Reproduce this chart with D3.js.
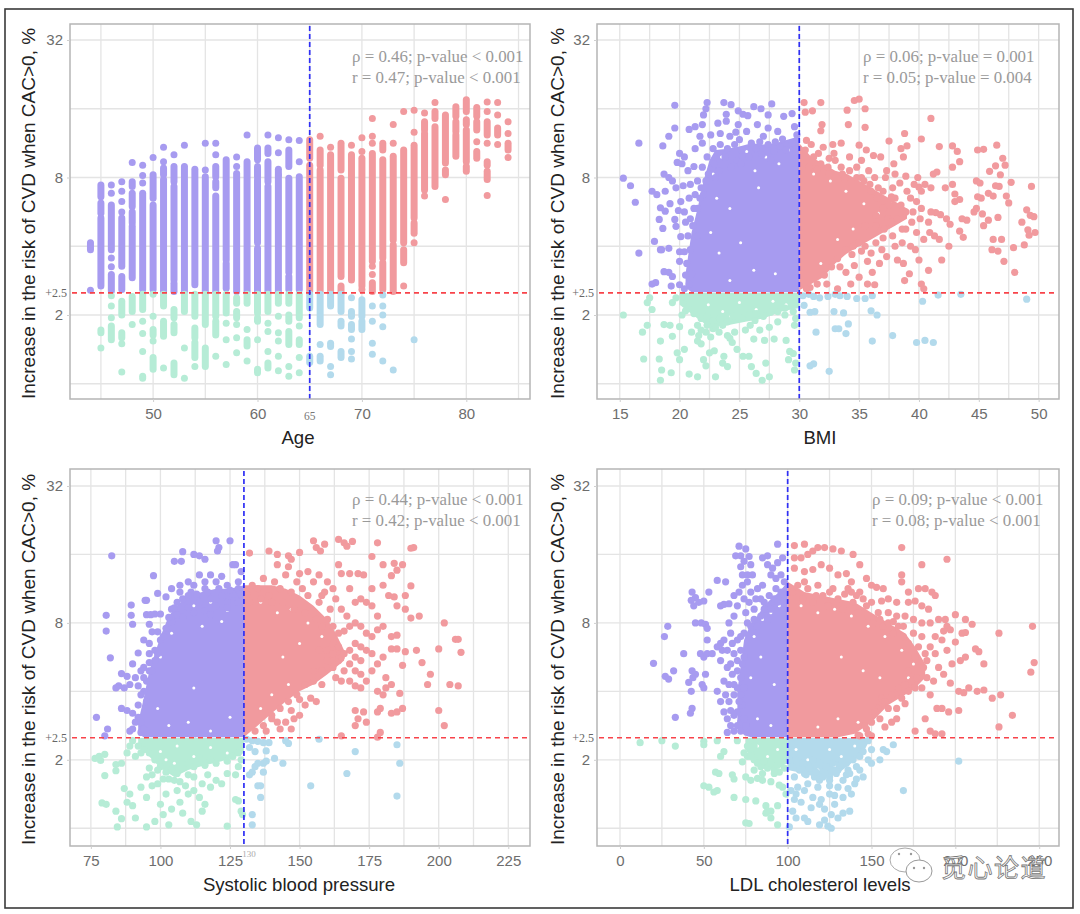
<!DOCTYPE html>
<html>
<head>
<meta charset="utf-8">
<script src="https://cdn.jsdelivr.net/npm/d3@7"></script>
<style>
  body { margin: 0; background: #fff; }
  svg { display: block; }
</style>
</head>
<body>
<div id="canvas"></div>
<script>
// y values are all log2(risk %), the axis is a log2 axis
const yGrid = [0, 1, 2, 3, 4, 5];
const yLabelled = [1, 3, 5];
const riskCut = Math.log2(2.5);

const corrAge = ["ρ = 0.46; p-value < 0.001", "r = 0.47; p-value < 0.001"];
const corrBmi = ["ρ = 0.06; p-value = 0.001", "r = 0.05; p-value = 0.004"];
const corrSbp = ["ρ = 0.44; p-value < 0.001", "r = 0.42; p-value < 0.001"];
const corrLdl = ["ρ = 0.09; p-value < 0.001", "r = 0.08; p-value < 0.001"];

const ageTicks = [50, 60, 70, 80];
const bmiTicks = [15, 20, 25, 30, 35, 40, 45, 50];
const sbpTicks = [75, 100, 125, 150, 175, 200, 225];
const ldlTicks = [0, 50, 100, 150, 200, 250];

// age panel: [age, runs of stacked dots as [hi, lo] or a single [v]]
const ageColumns = [
  [44, [2.05,1.95], [1.36]],
  [45, [2.89,2.72], [2.63,2.48], [2.41,1.42], [0.78,0.74], [0.52]],
  [46, [2.89], [2.77], [2.6,1.95], [1.83], [1.7], [1.59,1.35], [1.28], [1.13], [0.96], [0.84,0.64]],
  [47, [2.94], [2.8], [2.65], [2.5], [2.41,1.71], [1.56,1.37], [1.2,1.0], [0.74,0.67], [0.58], [0.17]],
  [48, [3.22], [2.94,2.87], [2.77,2.58], [2.5,2.34], [2.29,1.54], [1.27,1.05], [0.86]],
  [49, [3.18], [3.03], [2.92], [2.77,1.37], [1.3,1.08], [0.91], [0.73], [0.47], [0.11,0.08]],
  [50, [3.29], [3.04,2.7], [2.6,1.37], [1.3], [0.98], [0.79,0.71], [0.62], [0.38,0.21]],
  [51, [3.44], [3.23], [3.14,3.04], [2.97,1.34], [1.3,1.13], [0.91,0.69], [0.23]],
  [52, [3.33], [3.16,2.94], [2.87,1.51], [1.46,1.34], [1.08,0.96], [0.86,0.74], [0.3,0.13]],
  [53, [3.47], [3.16,3.01], [2.97,1.34], [1.3,1.05], [0.52], [0.08]],
  [54, [3.12,1.44], [1.3,0.98], [0.81,0.67], [0.6,0.38], [0.25]],
  [55, [3.5], [3.11], [3.01,1.34], [1.3,0.86], [0.52,0.25]],
  [56, [3.5], [3.33], [3.16,3.01], [2.94,2.85], [2.73,1.34], [1.3,0.98], [0.91,0.71], [0.4]],
  [57, [3.26,1.8], [1.75,1.39], [1.3,1.03], [0.88], [0.64], [0.28]],
  [58, [3.3], [3.16], [3.06,1.34], [1.25,1.17], [1.05,0.96], [0.86], [0.67], [0.45]],
  [59, [3.62], [3.23,1.34], [1.3,1.17], [0.79], [0.64,0.55], [0.33]],
  [60, [3.43,3.26], [3.16,3.01], [2.97,2.05], [1.97,1.34], [1.3,1.03], [0.96,0.91], [0.64], [0.21,0.16]],
  [61, [3.62], [3.43,3.35], [3.23,2.94], [2.87,1.34], [1.3,1.05], [0.88], [0.76], [0.47], [0.3,0.23]],
  [62, [3.58], [3.36], [3.12,3.04], [3.03,1.34], [1.3,1.17], [0.98], [0.74], [0.62], [0.4], [0.19]],
  [63, [3.55], [3.4,3.16], [2.99,1.62], [1.56,1.37], [1.3,1.17], [1.0,0.91], [0.76,0.57], [0.25], [0.11]],
  [64, [3.54], [3.23], [3.01,1.37], [1.3,0.96], [0.84], [0.64,0.57], [0.38], [0.16]],
  [65, [3.55,3.28], [3.18,1.34], [1.3,1.1], [0.4,0.31]],
  [66, [3.6], [3.4,3.18], [3.11,1.34], [1.3,0.86], [0.57], [0.4,0.33]],
  [67, [3.44], [3.33,1.34], [1.3,1.13], [0.59,0.54], [0.25], [0.13]],
  [68, [3.5,3.11], [2.99,1.56], [1.42,1.34], [1.3,1.05], [0.91,0.84], [0.47,0.38]],
  [69, [3.47], [3.33,1.51], [1.25], [1.05,0.98], [0.86,0.79], [0.65], [0.47], [0.36]],
  [70, [3.58], [3.38], [3.28,1.42], [1.37], [1.22,0.98], [0.91,0.79]],
  [71, [3.86], [3.6], [3.5], [3.35,1.78], [1.71], [1.59], [1.47,1.34], [1.13], [0.91], [0.59], [0.43]],
  [72, [3.5,3.4], [3.26,1.83], [1.76,1.37], [1.29], [1.13], [1.0], [0.83], [0.33]],
  [73, [3.77], [3.5], [3.31,2.09], [2.02,1.34], [0.2]],
  [74, [3.96], [3.4,2.05], [1.95,1.76], [1.42]],
  [75, [3.98], [3.66], [3.47,2.41], [2.34,2.19], [2.05], [0.64]],
  [76, [3.94], [3.81,3.69], [3.64,2.82], [2.73]],
  [77, [4.09], [3.96,3.86], [3.74,2.87]],
  [78, [3.91,3.21], [3.11,3.04], [2.68]],
  [79, [4.03,3.89], [3.81,3.67], [3.62,3.31]],
  [80, [4.13,3.96], [3.84,3.77], [3.69,3.23], [3.16,3.09]],
  [81, [4.02,3.89], [3.81,3.69], [3.52], [3.38,3.28]],
  [82, [4.1], [3.96], [3.81,3.62], [3.5], [3.23,3.18], [3.09,2.97], [2.74]],
  [83, [4.09], [3.91], [3.72,3.62], [3.48]],
  [84, [3.81], [3.64], [3.5,3.4], [3.29]]
];

// solid middle of the clouds: [x, lo, hi]
const bmiCores = [
  [[20.5,1.4,1.6],[21,1.33,2.2],[21.5,1.33,2.55],[22,1.33,2.95],[22.5,1.33,3.25],[23,1.33,3.4],[24,1.33,3.42],[25,1.33,3.45],[26,1.33,3.5],[27,1.33,3.48],[28,1.33,3.5],[29,1.33,3.55],[30,1.33,3.6]],
  [[30,1.36,3.5],[31,1.45,3.3],[32,1.55,3.2],[33,1.75,3.1],[34,1.9,3.05],[35,2.0,2.95],[36,2.1,2.85],[37,2.2,2.75],[38,2.3,2.65],[39,2.4,2.55]],
  [[20,1.15,1.32],[21.5,0.95,1.32],[22.5,0.82,1.32],[24,0.85,1.32],[25.5,0.9,1.32],[27,0.95,1.32],[28.5,1.05,1.32],[30,1.1,1.32]]
];
const sbpCores = [
  [[92,1.38,1.55],[94,1.33,1.9],[96,1.33,2.3],[98,1.33,2.55],[100,1.33,2.8],[103,1.33,3.1],[106,1.33,3.25],[110,1.33,3.4],[115,1.33,3.45],[120,1.33,3.5],[125,1.33,3.5],[130,1.33,3.55]],
  [[130,1.33,3.55],[135,1.5,3.55],[140,1.68,3.55],[145,1.85,3.5],[150,2.0,3.4],[155,2.1,3.25],[160,2.25,3.05],[163,2.35,2.85],[166,2.45,2.6]],
  [[92,1.22,1.32],[96,1.05,1.32],[100,0.88,1.32],[105,0.75,1.32],[110,0.85,1.32],[116,0.92,1.32],[122,0.98,1.32],[127,1.05,1.32],[130,1.1,1.32]]
];
const ldlCores = [
  [[70,1.5,2.0],[74,1.36,2.75],[78,1.33,3.0],[82,1.33,3.1],[86,1.33,3.25],[90,1.33,3.35],[95,1.33,3.45],[100,1.33,3.6]],
  [[100,1.33,3.6],[110,1.33,3.45],[120,1.33,3.4],[130,1.33,3.35],[140,1.38,3.3],[150,1.55,3.15],[160,1.8,3.0],[170,1.95,2.85],[176,2.05,2.65],[182,2.2,2.4]],
  [[75,1.15,1.32],[80,0.95,1.32],[85,0.88,1.32],[92,0.88,1.32],[100,0.95,1.32]],
  [[100,0.85,1.32],[110,0.8,1.32],[120,0.72,1.32],[130,0.8,1.32],[138,0.95,1.32],[145,1.1,1.32],[148,1.25,1.32]]
];

// small openings seen inside the solid parts of the clouds
const bmiGaps = [
  [23.5,3.3],[24.4,3.15],[25.6,3.38],[26.3,3.1],[27.2,3.3],[28.3,3.2],[29.1,3.4],[22.8,3.05],[23.1,2.7],[24.2,2.55],[22.6,2.2],[23.3,1.9],[25.1,2.05],[26.2,1.65],[24.2,1.5],[28,1.6],[26.6,2.85],[31.2,3.05],[32.6,2.95],[33.9,2.8],[35.4,2.62],[36.6,2.48],[37.6,2.62],[34.5,2.25],[33.2,2.1],[31.8,1.75],[22.4,1.15],[23.6,1.05],[25,1.18],[26.4,1.08],[27.8,1.2],[28.9,1.15],[24.3,0.98]
];
const sbpGaps = [
  [112,3.25],[118,3.3],[124,3.18],[108,3.05],[104,2.85],[100,2.5],[115,2.95],[122,3.02],[99,1.75],[103,1.5],[110,1.55],[118,1.42],[125,1.62],[112,2.05],[136,3.3],[142,3.15],[147,3.2],[153,3.0],[158,2.8],[150,2.7],[144,2.5],[136,1.75],[140,1.95],[146,2.1],[100,1.12],[106,1.2],[112,1.05],[118,1.18],[124,1.1],[105,0.95],[102,1.0]
];
const ldlGaps = [
  [85,3.05],[90,3.15],[95,3.25],[80,2.8],[84,2.5],[78,2.2],[82,1.6],[90,1.5],[92,2.1],[108,3.25],[118,3.15],[128,3.2],[138,3.1],[148,2.95],[158,2.8],[168,2.6],[175,2.4],[145,2.3],[132,2.5],[155,2.2],[118,1.48],[130,1.6],[142,1.55],[172,2.2],[82,1.2],[88,1.05],[94,1.15],[105,1.15],[112,1.0],[118,0.85],[125,1.15],[132,1.05],[140,1.2],[128,0.92]
];

const bmiPoints = [
  [15.3,2.99],[15.9,2.88],[16.3,2.64],[16.6,3.5],[16.6,1.9],[19.6,4.05],[22.3,4.09],[22.2,4.0],[22.0,3.91],[23.7,4.09],[24.3,4.06],[24.9,3.97],[25.3,3.92],[26.2,4.03],[26.8,4.0],[27.7,4.07],[27.4,3.91],[25.7,3.9],[23.9,3.92],[19.6,3.72],[19.1,3.6],[18.6,3.46],[20.8,3.7],[21.3,3.74],[21.9,3.77],[21.7,3.6],[23.2,3.79],[23.9,3.82],[24.9,3.77],[25.6,3.67],[26.5,3.77],[27.4,3.72],[28.2,3.67],[28.7,3.89],[29.4,3.93],[29.6,3.74],[29.8,3.62],
  [24.2,3.6],[24.7,3.66],[22.6,3.62],[23.4,3.64],[27.0,3.6],[28.6,3.56],[25.0,3.55],[21.3,3.42],[21.9,3.5],[20.0,3.35],[20.4,3.3],[19.8,3.22],[20.2,3.2],[20.7,3.1],[21.2,3.16],[21.5,2.95],[19.1,3.0],[18.7,3.05],[19.4,2.95],[19.7,2.85],[20.3,2.88],[20.9,2.9],[17.7,2.8],[18.1,2.75],[18.8,2.8],[19.2,2.62],[18.4,2.56],[18.8,2.51],[19.6,2.39],[18.3,2.39],[18.6,2.26],[19.7,2.29],[17.9,2.07],[18.4,1.95],[19.1,1.97],[20.1,2.14],[20,1.92],[20,1.78],[18.7,1.63],[19.4,1.56],[18,1.47],[19.3,1.42],[20,1.44],[20.4,2.5],[20.8,2.7],[21.3,2.75],[20.1,2.65],[20.9,2.4],[19.9,2.52],[21.8,2.85],[18.5,1.95],[19.1,1.62],[17.7,1.45],[20.5,1.58],
  [30.4,4.09],[31.8,4.09],[34.6,4.12],[35,4.14],[35.5,4.0],[30.5,3.95],[31.1,3.97],[34,3.98],[34.1,3.77],[35.5,3.73],[31.9,3.77],[31.8,3.68],[41,3.86],[38.8,3.64],[40.2,3.56],[37.5,3.53],[35,3.47],[35.6,3.4],[33.5,3.5],[32.8,3.48],[32,3.44],[31,3.48],[30.6,3.54],[36.2,3.32],[36.8,3.3],[38.5,3.42],[39,3.46],[38.7,3.3],[37.9,3.2],[38,3.05],[38.9,3.02],[37.3,3.1],[39.9,3.0],[41.7,3.45],[42.8,3.46],[43.2,3.38],[43.4,3.23],[42.8,3.15],[44.9,3.4],[45.4,3.41],[46.5,3.47],[47,3.28],[46.4,3.17],[47.2,3.18],[46.8,3.04],[45.9,3.09],[47.7,2.93],[46.7,2.87],[46.4,2.88],[49.4,2.87],[44.8,2.95],[45.1,2.92],[45.8,2.77],[46.2,2.73],[47.3,2.73],[47.5,2.63],[44.9,2.72],[45.2,2.7],[43,2.76],[43,2.65],[43.4,2.68],[41.2,3.05],[41.5,3.08],[40.5,2.9],[40,2.86],[41,2.85],[42.2,2.85],[42.8,2.9],[49,2.53],[49.3,2.45],[49.6,2.43],[48.6,2.35],[49.1,2.24],[49.7,2.2],[49.2,2.16],[47.9,1.98],[48.8,2.02],[46.6,2.42],[44.6,2.5],[44.8,2.55],[45.3,2.47],[45.8,2.38],[45.4,2.3],[44,2.38],[43.6,2.4],[43.4,2.22],[43.7,2.13],[42.6,2.32],[42.3,2.4],[41.8,2.46],[41.4,2.49],[46.1,1.95],[46.6,1.93],[46.9,2.1],[46.2,2.1],[47.1,1.78],[48,1.62],[42.5,2.0],[41.9,1.8],[40.8,1.65],[40.2,1.45],[40.4,1.38],
  [38,2.7],[38.5,2.6],[39,2.8],[39.5,2.5],[39.6,2.9],[38.2,2.4],[37.5,2.6],[37.8,2.85],[38.9,2.25],[39.8,2.2],[40.1,2.4],[40.4,2.1],[40.9,2.2],[41.3,2.15],[41.7,2.1],[39.3,2.0],[38.6,2.05],[37.8,2.15],[37.1,2.25],[36.4,2.05],[36.9,1.95],[37.3,1.85],[38.2,1.8],[38.7,1.75],[39.7,1.95],[40,1.8],[39.2,1.6],[38.8,1.5],[36.7,1.75],[36.1,1.62],[35.7,1.78],[35.2,1.93],[34.4,1.88],[35,1.55],[35.7,1.45],[36.3,1.44],[33.4,1.7],[34.3,1.45],[33.2,1.38],[32.3,1.45],[35.9,2.9],[36.6,2.85],[37.2,3.0],[35.8,3.1],[34.8,3.15],[33.5,3.15],[32.5,3.28],[31.6,3.35],[32.9,3.35],[34.2,3.3],[35.2,3.25],
  [15.3,1.0],[17.5,1.25],[17.3,1.18],[17.7,1.08],[17.3,0.85],[16.9,0.75],[17,0.36],[18.3,0.36],[18.4,0.62],[18.4,0.05],[18.5,0.2],[18.7,0.86],[19.2,0.85],[19.4,0.69],[20,0.83],[19.3,0.16],[19.8,0.45],[20,0.35],[20.4,0.5],[20.8,0.14],[21.5,0.1],[21.5,0.62],[21.8,0.58],[22,0.35],[22.2,0.26],[22.5,0.45],[22.9,0.48],[23,0.1],[23.6,0.3],[23.7,0.4],[24,0.25],[24.4,0.6],[24.2,0.66],[24,0.7],[23.3,0.75],[22.8,0.8],[22.3,0.85],[21.6,0.7],[26,0.25],[26.4,0.15],[26.9,0.05],[27.5,0.1],[27.2,0.3],[25.3,0.4],[25.8,0.4],[27.9,0.65],[27.1,0.63],[28.9,0.63],[29.1,0.35],[29.7,0.3],[29.5,0.44],[29.2,0.47],[29.6,0.2],[24.8,0.5],[25.5,0.78],[26.2,0.65],[26.7,0.78],[27.5,0.82],[28.2,0.9],[28.8,1.0],[29.6,0.85],[25.9,0.85],[24.6,0.75],
  [30.3,1.28],[30.8,1.3],[31.2,1.27],[31.7,1.25],[32.4,1.27],[33,1.3],[33.4,1.28],[34,1.27],[34.8,1.24],[35.5,1.24],[36.1,1.28],[40.3,1.2],[41.6,1.29],[43.5,1.3],[49,1.23],[30.4,1.14],[30.9,1.04],[31.3,1.05],[32.9,1.05],[33.7,1.03],[36,1.06],[36.5,1.0],[34.1,0.87],[33,0.8],[33.3,0.8],[33.9,0.73],[31.4,0.75],[37.8,0.7],[36.1,0.62],[39.8,0.6],[40.5,0.63],[41.2,0.6],[30.9,0.26],[31.2,0.29],[32.5,0.18]
];
// denser, mottled rim of the BMI clouds
const bmiRim = [
  [22.4,3.05],[22.9,3.2],[23.3,3.1],[23.8,3.3],[24.3,3.15],[24.8,3.25],[25.2,3.4],[25.8,3.3],[26.4,3.42],[26.9,3.33],[27.4,3.48],[27.9,3.38],[28.4,3.45],[28.9,3.4],[29.4,3.5],[29.7,3.42],[22.3,3.3],[22.8,3.42],[23.4,3.48],[24,3.42],[24.6,3.48],[26,3.5],[26.7,3.52],[28,3.52],[22.2,2.95],[21.9,3.15],[22,2.75],[21.5,2.55],[21.1,2.3],[20.7,2.15],[20.9,1.95],[20.6,1.75],[20.4,1.92],[20.8,1.45],[20.4,1.38],[21,1.6],[21.5,2.15],[20.5,2.35],[21.2,2.55],[21.7,2.7],[23,3.0],[25.1,3.2],[27.6,3.25],
  [30.5,3.4],[31.2,3.3],[31.8,3.2],[32.4,3.15],[33,3.25],[33.6,3.05],[34.2,3.1],[34.8,3.0],[35.4,2.95],[36,2.8],[36.5,2.7],[37,2.55],[36.4,2.45],[37.4,2.4],[37.7,2.72],[38.4,2.92],[38.9,2.5],[39.3,2.7],[39.8,2.65],[40.2,2.8],[40.2,2.55],[39.4,2.35],[38.6,2.25],[37.7,2.35],[37,2.12],[36.4,2.3],[35.5,2.3],[35,2.05],[34.5,2.0],[33.9,1.95],[33.2,1.82],[32.7,1.7],[32.1,1.58],[31.5,1.45],[30.9,1.4],[30.6,1.38],[33.9,1.62],[34.6,1.72],[35.5,2.0],[36,1.9],[38,2.0],[41,2.5],[40.8,2.35],[35.2,3.0],[33.8,2.98],[32.5,3.05],[31.5,3.12],[30.8,3.15],[36.3,3.0],[37,2.8],
  [20.3,1.26],[20.9,1.18],[20.5,1.06],[21.2,1.02],[21.8,0.95],[22.3,0.98],[22.8,0.92],[23.4,0.95],[24,0.9],[24.5,0.98],[25.2,0.95],[25.8,1.0],[26.4,1.02],[27,0.98],[27.6,1.04],[28.2,1.05],[21.5,0.85],[22.2,0.75],[22.6,0.68],[23,0.82],[23.6,0.85],[19.7,1.25],[19.4,1.18],[20.2,1.0],[21,0.75],[21.8,0.78],[26.3,0.92],[28.8,1.1],[29.5,1.05],[29.7,0.95]
];

const sbpPoints = [
  [82.5,3.98],[97.5,3.69],[99,3.43],[95,3.33],[94.5,3.33],[89.5,3.26],[80.5,3.11],[89.5,3.11],[95,3.12],[96.5,3.12],[98,3.13],[100,3.13],[90,2.98],[96,2.98],[80.5,2.88],[97,2.87],[99,2.87],[94,2.75],[96,2.7],[92,2.56],[96,2.55],[98,2.45],[82,2.49],[90,2.4],[94,2.35],[96,2.3],[86,2.26],[88,2.22],[91,2.2],[85,2.08],[84,2.05],[87,2.05],[89,2.1],[92,2.08],[94,2.0],[86,1.75],[88,1.72],[90,1.68],[92,1.62],[77,1.62],[81,1.45],[80,1.35],[93,1.4],[89,1.42],[95,2.15],[93,2.3],
  [108,4.04],[112,4.0],[114,3.98],[116,3.93],[105,3.9],[107.5,3.9],[121,4.1],[125,4.2],[126,3.85],[122,3.68],[118,3.7],[114,3.7],[110,3.6],[107,3.55],[104,3.5],[102,3.38],[107,3.45],[112,3.55],[116,3.6],[120,3.6],[124,3.55],[128,3.6],[129,3.75],[128,3.5],
  [120,4.2],[120.5,4.05],[127,3.85],[116,3.5],[111,3.45],[106,3.3],[104,3.2],[105,3.1],
  [132,4.02],[139,4.05],[142,4.0],[146,3.98],[147,3.93],[150,4.03],[155,4.2],[156,4.1],[157.5,4.05],[159,4.15],[164,4.22],[166,4.17],[167,4.12],[169,4.19],[178,4.17],[176,3.97],[180,3.85],[183,3.69],[191,4.1],[190,4.09],[184,3.87],[187,3.85],[185,3.77],[190,3.54],[180,3.55],[176,3.5],[182,3.4],[184,3.38],[185,3.25],[188,3.2],[190,3.07],[193,3.1],[188,3.4],
  [142,3.85],[146,3.82],[150,3.72],[153,3.75],[157,3.7],[160,3.6],[164,3.85],[165,3.72],[168,3.72],[171,3.72],[173,3.7],[168,3.5],[172,3.35],[170,3.3],[174,3.3],[176,3.25],[178,3.1],[162,3.5],[158,3.4],[165,3.2],[167,3.1],[170,3.0],[172,2.95],[174,2.85],[176,2.8],[178,2.9],[180,2.95],[183,2.8],[185,2.82],[170,2.7],[172,2.65],[174,2.6],[176,2.55],[178,2.4],[180,2.5],[181,2.2],[183,2.62],[185,2.62],[188,2.58],[192,2.6],[187,2.38],[194,2.42],[197,2.25],[196,2.1],[202,3.0],[206,2.76],[207,2.76],[208,2.57],[200,2.62],[204,2.1],[207,2.08],[200,1.72],[202,1.5],
  [160,2.6],[162,2.35],[164,2.45],[166,2.3],[168,2.4],[170,2.3],[172,2.25],[174,2.15],[176,2.3],[165,2.15],[168,2.15],[170,2.08],[172,2.05],[163,2.2],[158,2.1],[155,2.15],[154,1.9],[156,1.85],[150,1.65],[152,1.8],[148,1.6],[145,1.55],[178,2.0],[180,1.95],[181,2.05],[179,1.75],[183,1.68],[186,1.97],[185,1.7],[187,1.75],[171,1.6],[170,1.72],[173,1.7],[170,1.5],[174,1.55],[178,1.7],[179,1.4],[178,1.33],[183,2.1],[165,1.35],[140,1.65],[142,1.55],[143,1.45],[147,1.45],
  [76.5,1.02],[78,1.05],[80,1.08],[78.5,0.99],[80,0.77],[84,0.93],[84,0.84],[87,0.58],[89,0.5],[79,0.37],[80.5,0.35],[84,0.25],[86,0.14],[84.5,0.02],[88,0.38],[90,0.33],[91,0.15],[93,0.6],[95,0.45],[95,0.75],[97,0.62],[95,0.02],[98,0.1],[100,0.35],[101,0.2],[103,0.05],[104,0.28],[106,0.55],[107,0.38],[108,0.22],[110,0.5],[111,0.1],[113,0.05],[114,0.45],[116,0.35],[115,0.25],[118,0.6],[120,0.7],[122,0.65],[124,0.03],[127,0.42],[128,0.4],[129,0.25],[129.5,0.2],[112,0.55],[102,0.5],[99,0.65],[105,0.7],[110,0.78],[117,0.78],[124,0.8],[127,0.78],[128,0.9],[89,1.2],[88,1.1],[91,1.05],[93,1.1],[86,0.95],
  [131,1.3],[133,1.28],[135,1.27],[137,1.25],[139,1.25],[145,1.28],[146,1.24],[157,1.3],[132,1.18],[134,1.12],[138,1.13],[141,1.02],[138,0.98],[137,0.95],[135,0.95],[133,0.82],[132,0.78],[134,0.9],[137,0.82],[144,0.95],[167,0.8],[170,1.12],[185,1.22],[186,0.95],[154,0.62],[136,0.62],[135,0.62],[136,0.45],[185,0.47],[133,0.2],[133,0.05]
];
const sbpRim = [
  [104,3.02],[106,3.12],[108,3.08],[110,3.22],[112,3.15],[114,3.3],[116,3.18],[118,3.35],[120,3.25],[122,3.4],[124,3.3],[126,3.42],[128,3.3],[129,3.42],[113,3.42],[117,3.45],[121,3.5],[125,3.48],[108,3.35],[110,3.4],[102,2.92],[100,2.75],[98,2.6],[96,2.42],[94,2.2],[93,1.95],[92,1.8],[91,1.55],[93,1.55],[95,1.85],[97,2.3],[99,2.55],[101,2.8],[103,3.08],[105,3.22],[118,3.12],[124,3.22],[90,1.45],[94,1.45],
  [131,3.42],[133,3.55],[135,3.5],[137,3.65],[139,3.4],[141,3.6],[143,3.5],[145,3.7],[147,3.45],[149,3.6],[151,3.5],[153,3.4],[155,3.6],[157,3.3],[159,3.45],[161,3.2],[163,3.35],[160,3.05],[162,2.95],[164,2.85],[162,2.7],[164,2.65],[166,2.88],[168,2.95],[165,2.5],[160,2.45],[162,2.55],[158,2.3],[155,2.3],[152,2.1],[149,1.95],[146,1.85],[143,1.75],[140,1.6],[137,1.5],[134,1.42],[138,1.42],[147,1.72],[150,1.88],[144,3.3],[148,3.2],[152,3.15],[156,3.05],[136,3.35],[140,3.3],[132,3.3],[166,2.55],[168,2.6],[170,2.5],[172,2.45],[158,2.95],[157,2.6],
  [90,1.28],[92,1.2],[94,1.15],[96,1.1],[98,1.0],[100,0.9],[102,0.82],[104,0.85],[106,0.8],[108,0.88],[110,0.95],[112,0.9],[114,1.02],[116,0.92],[118,1.0],[120,0.95],[122,1.05],[124,0.98],[126,1.05],[128,1.1],[129,1.0],[103,0.72],[101,0.72],[107,0.68],[115,0.65],[109,0.62],[99,0.85],[96,0.88],[97,0.78],[112,0.75]
];

const ldlPoints = [
  [20,2.41],[27,2.22],[29,2.18],[32,2.3],[33,1.62],[41,2.13],[43,2.3],[43.5,2.2],[45,2.25],[42.5,2.0],[42,1.68],[43,1.75],[38,2.55],[28.5,2.95],[26.5,2.8],[45,3.0],[48.5,3.0],[51,2.98],[52,2.92],[52,2.75],[48,2.55],[50,2.5],[52,2.55],[55,2.55],[51,2.25],[49,2.1],[50,2.05],
  [43,3.45],[45,3.37],[42.5,3.33],[44,3.25],[47,3.3],[50,3.32],[53,3.45],[58,3.62],[63,3.6],[60,3.25],[62,3.27],[65,3.28],[68,3.4],[71,3.45],[73,3.55],[76,3.6],[70,3.25],[68,3.1],[65,3.0],[66,2.85],[60,2.7],[62,2.75],[58,2.65],[61,2.6],[64,2.6],[67,2.7],[70,2.75],[72,2.8],[60,2.45],[64,2.35],[67,2.25],[70,2.3],[73,2.4],[62,2.15],[58,2.0],[60,1.85],[62,1.7],[64,1.6],[66,1.5],[68,1.42],[70,1.7],[72,1.55],[74,1.6],[65,1.85],[68,1.95],[72,1.95],
  [71,4.12],[75,4.08],[69,3.98],[72,3.98],[74,3.9],[77,3.97],[72,3.82],[78,3.85],[73,3.7],[76,3.7],[79,3.7],[85,3.95],[88,3.98],[94,4.15],[88,3.85],[91,3.8],[94,3.88],[97,3.95],[90,3.7],[93,3.65],[96,3.7],[98,3.6],[85,3.55],[82,3.5],[78,3.45],[74,3.35],[77,3.3],[81,3.35],[86,3.3],
  [104,4.13],[110,4.15],[104,3.95],[108,3.95],[112,4.0],[115,4.05],[118,4.1],[122,4.1],[127,4.08],[132,4.05],[139,4.0],[143,3.85],[104,3.8],[110,3.75],[115,3.78],[120,3.85],[125,3.8],[130,3.7],[135,3.72],[138,3.6],[147,3.65],[150,3.55],[153,3.52],[157,3.5],[168,4.1],[168,3.7],[168,3.6],[180,3.85],[195,3.93],[172,3.45],[178,3.5],[186,3.45],[182,3.5],[188,3.4],[176,3.32],[180,3.25],[184,3.2],[172,3.3],[165,3.3],[160,3.35],[156,3.32],[150,3.3],[143,3.45],[138,3.45],[160,3.15],[165,3.1],[170,3.1],[175,3.05],[180,3.0],[185,3.0],[190,3.05],[194,3.05],[195,2.95],[200,3.12],[206,3.05],[210,2.98],[193,2.88],[197,2.9],[204,2.85],[206,2.86],[188,2.8],[192,2.75],[200,2.72],[185,2.65],[188,2.55],[195,2.6],[198,2.4],[203,2.45],[206,2.5],[212,2.62],[214,2.58],[217,2.4],[226,2.85],[246,2.95],[247,2.42],[245,2.28],[190,2.35],[193,2.25],[197,2.12],[202,2.0],[205,1.98],[208,2.05],[213,2.0],[217,2.02],[222,1.9],[227,1.95],[187,2.15],[183,2.2],[180,2.05],[185,1.95],[189,1.75],[192,1.75],[196,1.7],[202,1.72],[234,1.65],[226,1.48],[182,1.6],[185,1.42],[188,1.38],[192,1.38],[176,1.42],[170,1.82],[165,1.75],[162,1.55],[158,1.48],[155,1.6],[150,1.35],[147,1.45],[143,1.35],[156,1.9],[165,1.6],
  [12,1.25],[25,1.28],[33,1.2],[50,1.27],[50,1.22],[58,1.28],[70,1.28],[62,1.12],[60,1.05],[57,0.82],[59,0.8],[67,0.78],[68,0.72],[50,0.62],[53,0.6],[56,0.53],[58,0.55],[68,0.45],[75,0.42],[75,0.75],[78,0.7],[82,0.73],[85,0.7],[90,0.68],[95,0.63],[81,0.4],[87,0.33],[88,0.25],[90,0.25],[94,0.33],[87,0.22],[90,0.15],[77,0.07],[75,0.08],[94,0.05],[99,0.5],[97,0.6],[73,0.97],[76,1.05],[78,1.15],[80,0.85],[85,0.8],[92,0.8],[95,0.82],
  [101,0.02],[104,0.42],[108,0.38],[114,0.3],[119,0.35],[122,0.28],[126,0.2],[128,0.35],[133,0.22],[137,0.25],[112,0.1],[119,0.05],[124,0.03],[126,0.0],[122,0.12],[130,0.15],[110,0.15],[105,0.15],[103,0.25],[106,0.6],[112,0.65],[118,0.6],[125,0.62],[130,0.6],[136,0.58],[140,0.65],[104,0.75],[110,0.8],[116,0.75],[125,0.75],[135,0.78],[141,0.72],[145,0.75],[148,1.0],[150,0.95],[150,1.15],[155,1.0],[159,1.12],[163,1.22],[143,1.05],[148,1.28],[202,0.98],[169,0.55],[157,1.15],[136,0.85],[130,0.85],[119,0.7]
];
const ldlRim = [
  [74,2.85],[76,3.0],[78,2.95],[80,3.05],[82,2.95],[84,3.1],[86,3.2],[88,3.05],[90,3.2],[92,3.35],[94,3.3],[96,3.45],[98,3.4],[75,3.15],[80,3.2],[84,3.35],[89,3.4],[93,3.5],[68,2.55],[70,2.45],[72,2.6],[66,2.4],[68,2.1],[70,2.05],[72,2.2],[74,2.05],[73,1.8],[71,1.85],[66,1.72],[68,1.65],[64,1.4],[70,1.5],[72,1.42],[75,1.5],[74,2.5],[65,2.1],[63,1.95],
  [103,3.45],[106,3.55],[109,3.35],[112,3.5],[115,3.3],[118,3.55],[121,3.4],[124,3.25],[127,3.5],[130,3.35],[133,3.2],[136,3.5],[139,3.3],[142,3.15],[145,3.35],[148,3.1],[151,3.0],[154,3.15],[157,2.95],[160,3.0],[163,2.85],[166,2.95],[169,2.8],[172,2.7],[175,2.85],[178,2.65],[180,2.8],[182,2.55],[178,2.45],[181,2.35],[176,2.5],[172,2.3],[174,2.15],[177,2.2],[170,2.1],[166,2.05],[162,1.95],[158,1.85],[154,1.75],[150,1.55],[146,1.5],[152,1.7],[160,1.75],[168,1.9],[172,2.0],[176,2.05],[142,1.36],[148,1.38],[125,3.45],[117,3.4],[110,3.6],[134,3.42],[141,3.4],[147,3.25],[155,3.05],[163,3.02],[169,2.95],[183,2.45],
  [76,1.2],[78,1.05],[80,1.0],[82,0.95],[84,0.9],[86,0.98],[88,0.88],[90,0.95],[92,0.85],[94,0.92],[96,0.95],[98,0.88],[99,1.0],[74,1.1],[80,1.2],
  [101,1.0],[103,0.9],[105,1.0],[107,0.85],[109,0.95],[111,0.78],[113,0.88],[115,1.0],[117,0.82],[119,0.95],[121,0.75],[123,0.9],[125,0.7],[127,0.95],[129,0.8],[131,0.92],[133,0.7],[135,0.95],[137,0.8],[139,1.0],[141,0.9],[143,0.85],[145,1.12],[102,0.55],[105,0.5],[110,0.55],[115,0.45],[120,0.42],[125,0.5],[128,0.48],[133,0.45],[138,0.5]
];

const width = 1080;
const height = 914;
const colors = { leftHigh: "#a79bf0", rightHigh: "#f19a9e", leftLow: "#b6ecd6", rightLow: "#b3daec" };

const svg = d3.select("#canvas").append("svg").attr("width", width).attr("height", height);
svg.append("rect").attr("x", 5).attr("y", 9).attr("width", 1068).attr("height", 899)
  .attr("fill", "#fff").attr("stroke", "#3a3a3a").attr("stroke-width", 1.6);

function pickColor(x, v, cut) {
  if (v >= riskCut) return x < cut ? colors.leftHigh : colors.rightHigh;
  return x < cut ? colors.leftLow : colors.rightLow;
}

function drawPanel(p) {
  const g = svg.append("g");
  const xScale = d3.scaleLinear().domain(p.xDomain).range([p.left, p.right]);
  const yScale = d3.scaleLinear().domain(p.yDomain).range([p.bottom, p.top]);

  g.append("g").selectAll("line").data(d3.range(p.gridStart, p.xDomain[1], p.gridStep)).enter().append("line")
    .attr("x1", d => xScale(d)).attr("x2", d => xScale(d))
    .attr("y1", p.top).attr("y2", p.bottom).attr("stroke", "#e4e4e4").attr("stroke-width", 1.3);
  g.append("g").selectAll("line").data(yGrid).enter().append("line")
    .attr("x1", p.left).attr("x2", p.right)
    .attr("y1", d => yScale(d)).attr("y2", d => yScale(d)).attr("stroke", "#e4e4e4").attr("stroke-width", 1.3);

  const area = d3.area().x(d => xScale(d[0])).y0(d => yScale(d[1])).y1(d => yScale(d[2]));
  (p.cores || []).forEach(c => {
    g.append("path").attr("d", area(c)).attr("fill", pickColor(c[0][0], c[0][2], p.cut));
  });

  (p.gaps || []).forEach(d => {
    g.append("circle").attr("cx", xScale(d[0])).attr("cy", yScale(d[1])).attr("r", 1.5).attr("fill", "#fff");
  });

  (p.points || []).forEach(d => {
    g.append("circle").attr("cx", xScale(d[0])).attr("cy", yScale(d[1])).attr("r", 3.6)
      .attr("fill", pickColor(d[0], d[1], p.cut));
  });

  (p.columns || []).forEach(col => {
    col.slice(1).forEach(run => {
      const lo = run[run.length - 1];
      g.append("line").attr("x1", xScale(col[0])).attr("x2", xScale(col[0]))
        .attr("y1", yScale(run[0])).attr("y2", yScale(lo))
        .attr("stroke", pickColor(col[0], lo, p.cut)).attr("stroke-width", 7).attr("stroke-linecap", "round");
    });
  });

  g.append("line").attr("x1", p.left + 2).attr("x2", p.right - 2)
    .attr("y1", yScale(riskCut)).attr("y2", yScale(riskCut))
    .attr("stroke", "#f8434a").attr("stroke-width", 1.6).attr("stroke-dasharray", "5,4");
  g.append("line").attr("x1", xScale(p.cut)).attr("x2", xScale(p.cut))
    .attr("y1", p.top + 2).attr("y2", p.bottom)
    .attr("stroke", "#2f2ff5").attr("stroke-width", 1.7).attr("stroke-dasharray", "5,3");

  g.append("rect").attr("x", p.left).attr("y", p.top)
    .attr("width", p.right - p.left).attr("height", p.bottom - p.top)
    .attr("fill", "none").attr("stroke", "#b5b5b5").attr("stroke-width", 1.5);

  const xAxis = d3.axisBottom(xScale).tickValues(p.xTicks).tickSize(3).tickPadding(6);
  const yAxis = d3.axisLeft(yScale).tickValues(yLabelled).tickSize(3).tickPadding(4)
    .tickFormat(d => Math.pow(2, d));
  [g.append("g").attr("transform", `translate(0,${p.bottom})`).call(xAxis),
   g.append("g").attr("transform", `translate(${p.left},0)`).call(yAxis)].forEach(a => {
    a.select(".domain").remove();
    a.selectAll("line").attr("stroke", "#cfcfcf");
    a.selectAll("text").attr("fill", "#6d6d6d")
      .style("font", "15px 'Liberation Sans', Arial, sans-serif");
  });

  g.append("text").attr("x", p.left - 3).attr("y", yScale(riskCut)).attr("dy", "0.35em")
    .attr("text-anchor", "end").attr("fill", "#666")
    .style("font", "12px 'Liberation Serif', serif").text("+2.5");
  if (p.cutLabel) {
    g.append("text").attr("x", xScale(p.cut) + p.cutLabelDx).attr("y", p.bottom + p.cutLabelDy)
      .attr("text-anchor", "middle").attr("fill", p.cutLabelFill)
      .style("font", `${p.cutLabelSize}px 'Liberation Serif', serif`).text(p.cutLabel);
  }

  g.selectAll(".corr").data(p.corr).enter().append("text").attr("class", "corr")
    .attr("x", p.corrX).attr("y", (d, i) => p.corrY + i * 20.5)
    .attr("fill", "#9a9a9a").style("font", "16.9px 'Liberation Serif', serif").text(d => d);

  g.append("text").attr("x", (p.left + p.right) / 2 - 8 + p.titleDx).attr("y", p.bottom + 45)
    .attr("text-anchor", "middle").attr("fill", "#222")
    .style("font", "18.6px 'Liberation Sans', Arial, sans-serif").text(p.xLabel);
  g.append("text").attr("transform", `translate(${p.yTitleX},${(p.top + p.bottom) / 2 + 2}) rotate(-90)`)
    .attr("text-anchor", "middle").attr("fill", "#222")
    .style("font", "19px 'Liberation Sans', Arial, sans-serif").text("Increase in the risk of CVD when CAC>0, %");
}

const topRow = { top: 24, bottom: 399, yDomain: [-0.222, 5.233] };
const bottomRow = { top: 469, bottom: 846, yDomain: [-0.259, 5.248] };
const leftCol = { left: 70, right: 530, yTitleX: 35 };
const rightCol = { left: 597, right: 1059, yTitleX: 564 };

drawPanel({ ...topRow, ...leftCol, xDomain: [42.04, 86.1], gridStart: 45, gridStep: 5, xTicks: ageTicks, cut: 65,
  columns: ageColumns, corr: corrAge, corrX: 352, corrY: 62, xLabel: "Age", titleDx: 6,
  cutLabel: "65", cutLabelDx: 0, cutLabelDy: 21, cutLabelSize: 11.5, cutLabelFill: "#777" });
drawPanel({ ...topRow, ...rightCol, xDomain: [13.1, 51.7], gridStart: 15, gridStep: 2.5, xTicks: bmiTicks, cut: 30,
  cores: bmiCores, gaps: bmiGaps, points: bmiPoints.concat(bmiRim), corr: corrBmi, corrX: 863, corrY: 62, xLabel: "BMI", titleDx: 0 });
drawPanel({ ...bottomRow, ...leftCol, xDomain: [67.5, 232.8], gridStart: 75, gridStep: 12.5, xTicks: sbpTicks, cut: 130,
  cores: sbpCores, gaps: sbpGaps, points: sbpPoints.concat(sbpRim), corr: corrSbp, corrX: 352, corrY: 505, xLabel: "Systolic blood pressure", titleDx: 7,
  cutLabel: "130", cutLabelDx: 5, cutLabelDy: 11, cutLabelSize: 9, cutLabelFill: "#aaa" });
drawPanel({ ...bottomRow, ...rightCol, xDomain: [-13.7, 261.8], gridStart: 0, gridStep: 25, xTicks: ldlTicks, cut: 100,
  cores: ldlCores, gaps: ldlGaps, points: ldlPoints.concat(ldlRim), corr: corrLdl, corrX: 872, corrY: 505, xLabel: "LDL cholesterol levels", titleDx: 0 });

// watermark over the last panel
const mark = svg.append("g");
mark.append("ellipse").attr("cx", 905).attr("cy", 860).attr("rx", 15).attr("ry", 12)
  .attr("fill", "rgba(255,255,255,0.8)").attr("stroke", "#aaa").attr("stroke-width", 1);
mark.append("ellipse").attr("cx", 919).attr("cy", 871).attr("rx", 13).attr("ry", 11)
  .attr("fill", "#fff").attr("stroke", "#999").attr("stroke-width", 1);
mark.selectAll("circle").data([[899, 854], [911, 854], [914, 868], [924, 868]]).enter().append("circle")
  .attr("cx", d => d[0]).attr("cy", d => d[1]).attr("r", 1.2).attr("fill", "#999");
mark.append("text").attr("x", 941).attr("y", 877).attr("fill", "#fff").attr("stroke", "#777").attr("stroke-width", 0.8)
  .attr("letter-spacing", "1.5px").style("font", "25px 'Noto Sans CJK SC', sans-serif").text("觅心论道");
</script>
</body>
</html>
